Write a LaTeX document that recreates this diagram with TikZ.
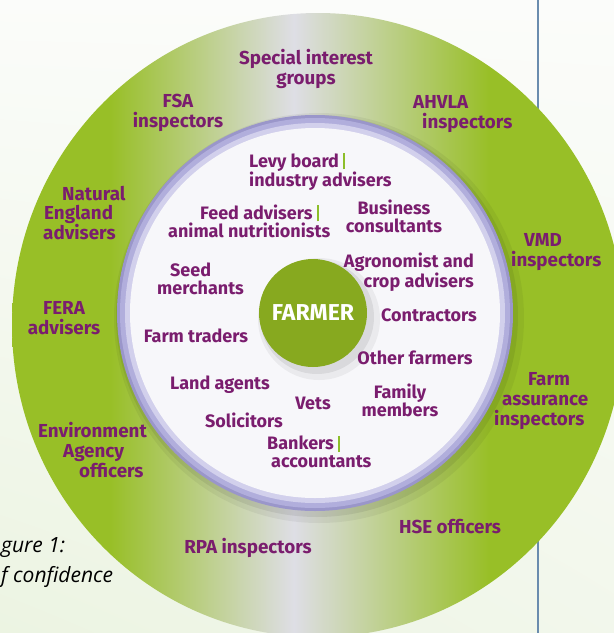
\documentclass[tikz,border=0pt]{standalone}
\usepackage{fontspec}
\setmainfont{Fira Sans}
\newfontfamily\capfont{Open Sans}
\usetikzlibrary{shadings}
\definecolor{ringgreen}{HTML}{98BF27}
\definecolor{ringpale}{HTML}{DEDEE5}
\definecolor{labelpurple}{HTML}{7A1D6E}
\definecolor{farmergreen}{HTML}{87A91F}
\definecolor{bargreen}{HTML}{8DBE2A}
\definecolor{lavdark}{HTML}{9A96CA}
\definecolor{lavmid}{HTML}{B1AEDC}
\definecolor{lavlight}{HTML}{D2D0EC}
\definecolor{innerwhite}{HTML}{F7F7FA}
\definecolor{rulecol}{HTML}{6A8CAE}
\definecolor{bgA}{HTML}{ECF4E2}
\definecolor{bgB}{HTML}{FBFCFA}
\pgfdeclarehorizontalshading{greenband}{100bp}{color(0bp)=(ringgreen); color(33bp)=(ringgreen); color(48bp)=(ringpale); color(64bp)=(ringgreen); color(100bp)=(ringgreen)}
\newcommand{\gbar}{\textcolor{bargreen}{\rule[-0.12em]{1.8pt}{0.9em}}}

\begin{document}
\begin{tikzpicture}[x=1pt,y=-1pt,
  outerlabel/.style={text=labelpurple,font=\bfseries\fontsize{18.8}{19.6}\selectfont,inner sep=0pt,align=center},
  innerlabel/.style={text=labelpurple,font=\bfseries\fontsize{18}{17.9}\selectfont,inner sep=0pt,align=center},
  captext/.style={font=\capfont\itshape\fontsize{21}{22}\selectfont,inner sep=0pt,anchor=west}]
\useasboundingbox (0,0) rectangle (614,633);
\clip (0,0) rectangle (614,633);
\shade[upper left=bgB,upper right=bgB,lower left=bgA,lower right=bgA!60!bgB] (0,0) rectangle (614,633);
\draw[rulecol,line width=2.2pt] (538,0) -- (538,633);
\shade[shading=greenband] (318,325) ellipse [x radius=306pt, y radius=312pt];
\fill[black,opacity=0.05] (319,318) circle (205pt);
\fill[black,opacity=0.07] (317,316) circle (201pt);
\fill[lavdark] (315,313) circle (198pt);
\fill[lavmid] (315,313) circle (195pt);
\fill[lavlight] (315,313) circle (190pt);
\fill[innerwhite] (315,313) circle (185pt);
\fill[black,opacity=0.05] (319,319) circle (61pt);
\fill[black,opacity=0.07] (317,317) circle (57pt);
\node[circle,fill=farmergreen,minimum size=108pt,inner sep=0pt,text=white,font=\bfseries\fontsize{23}{23}\selectfont] (farmer) at (313,313) {FARMER};

\node[outerlabel] (special) at (306,69) {Special interest\\groups};
\node[outerlabel] (fsa) at (178,113) {FSA\\inspectors};
\node[outerlabel,align=left,anchor=west] (ahvla) at (413,114) {AHVLA\\\hspace*{9pt}inspectors};
\node[outerlabel,align=left,anchor=west] (natural) at (43,213) {\hspace*{19pt}Natural\\\hspace*{1pt}England\\advisers};
\node[outerlabel,align=left,anchor=west] (vmd) at (511,252) {\hspace*{13pt}VMD\\inspectors};
\node[outerlabel] (fera) at (64,318) {FERA\\advisers};
\node[outerlabel,align=left,anchor=west] (assurance) at (494,401) {\hspace*{34pt}Farm\\\hspace*{8pt}assurance\\inspectors};
\node[outerlabel,align=left,anchor=west] (environment) at (38,450) {Environment\\\hspace*{25pt}Agency\\\hspace*{41pt}officers};
\node[outerlabel] (hse) at (450,527) {HSE officers};
\node[outerlabel] (rpa) at (248,548) {RPA inspectors};

\node[innerlabel,align=left,anchor=west] (levy) at (249,172) {Levy board \gbar\\industry advisers};
\node[innerlabel,align=left,anchor=west] (feed) at (168,221) {\hspace*{32pt}Feed advisers \gbar\\animal nutritionists};
\node[innerlabel] (business) at (394,216) {Business\\consultants};
\node[innerlabel,align=left,anchor=west] (seed) at (157,279) {\hspace*{13pt}Seed\\merchants};
\node[innerlabel,align=right,anchor=east] (agronomist) at (474,272) {Agronomist and\\crop advisers};
\node[innerlabel] (contractors) at (429,315) {Contractors};
\node[innerlabel] (traders) at (196,336) {Farm traders};
\node[innerlabel] (others) at (415,358) {Other farmers};
\node[innerlabel] (land) at (220,385) {Land agents};
\node[innerlabel] (vets) at (313,403) {Vets};
\node[innerlabel] (family) at (400,400) {Family\\members};
\node[innerlabel] (solicitors) at (244,420) {Solicitors};
\node[innerlabel,align=left,anchor=west] (bankers) at (267,452) {Bankers \gbar\\\hspace*{4pt}accountants};

\node[captext] (figno) at (1,548) {gure 1:};
\node[captext] (figtitle) at (1,577) {f confidence};
\end{tikzpicture}
\end{document}
